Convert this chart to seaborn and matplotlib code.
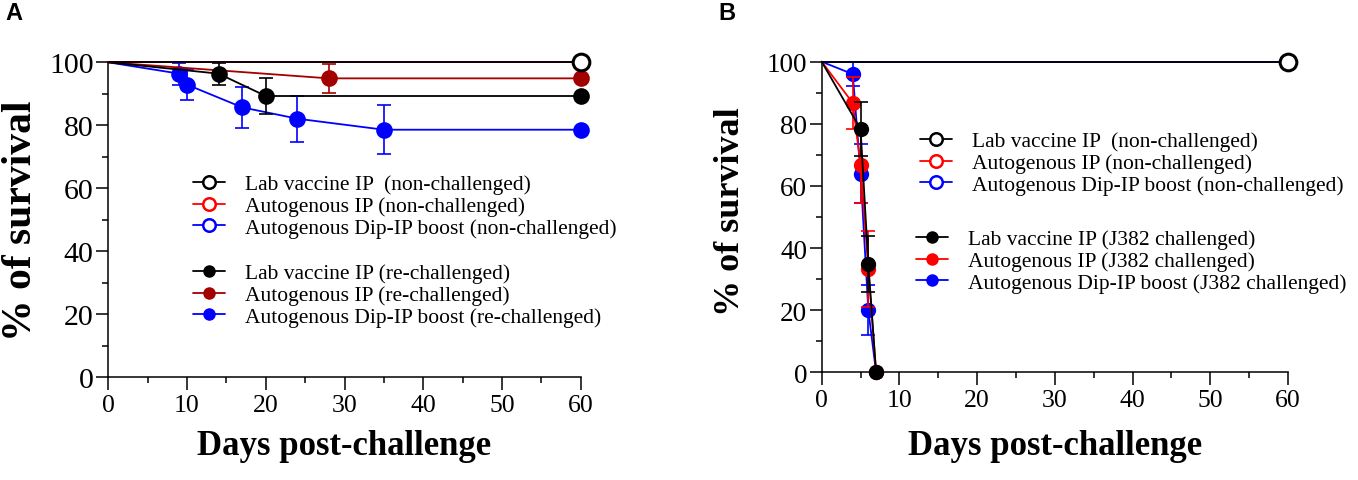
import numpy as np
import pandas as pd
import seaborn as sns
import matplotlib
matplotlib.use("Agg")
import matplotlib.pyplot as plt
from matplotlib.lines import Line2D
from matplotlib.ticker import MultipleLocator

# ---------------- data ----------------
# Panel A (re-challenge)
a_nc_days = [0, 60]
a_lab_nc_surv = [100, 100]
a_auto_nc_surv = [100, 100]
a_dip_nc_surv = [100, 100]

a_lab_rc_days = [0, 14, 20, 60]
a_lab_rc_surv = [100, 96.4, 89.3, 89.3]
a_lab_rc_se = [0, 3.5, 5.8, 0]

a_auto_rc_days = [0, 28, 60]
a_auto_rc_surv = [100, 94.9, 94.9]
a_auto_rc_se = [0, 4.7, 0]

a_dip_rc_days = [0, 9, 10, 17, 24, 35, 60]
a_dip_rc_surv = [100, 96.4, 92.9, 85.7, 82.1, 78.6, 78.6]
a_dip_rc_se = [0, 3.5, 4.9, 6.6, 7.3, 7.7, 0]

# Panel B (J382 challenge)
b_nc_days = [0, 60]
b_lab_nc_surv = [100, 100]

b_lab_j_days = [0, 5, 6, 7]
b_lab_j_surv = [100, 78.3, 34.8, 0]
b_lab_j_se = [0, 8.6, 9.0, 0]

b_auto_j_days = [0, 4, 5, 6, 7]
b_auto_j_surv = [100, 86.7, 66.7, 33.3, 0]
b_auto_j_se = [0, 8.5, 12.2, 12.2, 0]

b_dip_j_days = [0, 4, 5, 6, 7]
b_dip_j_surv = [100, 96.0, 64.0, 20.0, 0]
b_dip_j_se = [0, 3.9, 9.6, 8.0, 0]

x_ticks = [0, 10, 20, 30, 40, 50, 60]
y_ticks = [0, 20, 40, 60, 80, 100]

labels_a_nc = ["Lab vaccine IP  (non-challenged)", "Autogenous IP (non-challenged)",
               "Autogenous Dip-IP boost (non-challenged)"]
labels_a_rc = ["Lab vaccine IP (re-challenged)", "Autogenous IP (re-challenged)",
               "Autogenous Dip-IP boost (re-challenged)"]
labels_b_nc = ["Lab vaccine IP  (non-challenged)", "Autogenous IP (non-challenged)",
               "Autogenous Dip-IP boost (non-challenged)"]
labels_b_j = ["Lab vaccine IP (J382 challenged)", "Autogenous IP (J382 challenged)",
              "Autogenous Dip-IP boost (J382 challenged)"]

BLACK = "#000000"
RED = "#FF0000"
DARKRED = "#A30000"
BLUE = "#0000FF"

# ---------------- style ----------------
sns.set_theme(style="ticks")
plt.rcParams["font.family"] = ["Liberation Serif", "DejaVu Serif"]
plt.rcParams["axes.linewidth"] = 1.1
for k in ["text.color", "axes.labelcolor", "xtick.color", "ytick.color",
          "axes.edgecolor", "xtick.labelcolor", "ytick.labelcolor"]:
    plt.rcParams[k] = "black"

W, H = 1358, 481
fig = plt.figure(figsize=(W / 100, H / 100), dpi=100)


def px_axes(x0, x1, y_top, y_bot):
    return fig.add_axes([x0 / W, 1 - y_bot / H, (x1 - x0) / W, (y_bot - y_top) / H])


axA = px_axes(108.3, 580.7, 63.3, 378.3)
axB = px_axes(821.7, 1288.0, 62.7, 373.3)

LW = 1.3
MS = 12


def survival(ax, days, surv, se, color, ms=MS, z=3, face=None):
    df = pd.DataFrame({"day": days, "surv": surv, "se": se})
    sns.lineplot(data=df, x="day", y="surv", color=color, linewidth=LW, ax=ax,
                 clip_on=False, zorder=z, legend=False)
    pts = df.iloc[1:]
    eb = pts[pts["se"] > 0]
    if len(eb):
        ax.errorbar(eb["day"], eb["surv"], yerr=eb["se"], fmt="none", ecolor=color,
                    elinewidth=1.2, capsize=5, capthick=1.2, zorder=z, clip_on=False)
    sns.scatterplot(data=pts, x="day", y="surv", color=color if face is None else face,
                    edgecolor=color, linewidth=2.2 if face is not None else 0,
                    s=ms ** 2, ax=ax, zorder=z + 0.5, clip_on=False, legend=False)


# Panel A
survival(axA, a_dip_rc_days, a_dip_rc_surv, a_dip_rc_se, BLUE, z=3)
survival(axA, a_auto_rc_days, a_auto_rc_surv, a_auto_rc_se, DARKRED, z=4)
survival(axA, a_lab_rc_days, a_lab_rc_surv, a_lab_rc_se, BLACK, z=5)
sns.lineplot(x=a_nc_days, y=a_dip_nc_surv, color=BLUE, linewidth=LW, ax=axA, clip_on=False, zorder=5)
sns.lineplot(x=a_nc_days, y=a_auto_nc_surv, color=RED, linewidth=LW, ax=axA, clip_on=False, zorder=5)
survival(axA, a_nc_days, a_lab_nc_surv, [0, 0], BLACK, z=6, face="white")

# Panel B
sns.lineplot(x=b_nc_days, y=b_lab_nc_surv, color=BLUE, linewidth=LW, ax=axB, clip_on=False, zorder=2)
survival(axB, b_dip_j_days, b_dip_j_surv, b_dip_j_se, BLUE, ms=11, z=3)
survival(axB, b_auto_j_days, b_auto_j_surv, b_auto_j_se, RED, ms=11, z=4)
survival(axB, b_lab_j_days, b_lab_j_surv, b_lab_j_se, BLACK, ms=11, z=5)
survival(axB, b_nc_days, b_lab_nc_surv, [0, 0], BLACK, z=6, face="white")

for ax, ysize, ylsize, ylx, yly, xly in [
    (axA, 21.5, 30, -0.185, 0.5, -0.164),
    (axB, 19.5, 26, -0.195, 0.522, -0.1825),
]:
    ax.set_xlim(0, 60)
    ax.set_ylim(0, 100)
    ax.set_xticks(x_ticks)
    ax.set_yticks(y_ticks)
    ax.xaxis.set_minor_locator(MultipleLocator(5))
    ax.yaxis.set_minor_locator(MultipleLocator(10))
    ax.tick_params(which="major", length=9, width=1.1, color="black", direction="out")
    ax.tick_params(which="minor", length=4.5, width=1.1, color="black", direction="out")
    ax.tick_params(axis="x", which="major", labelsize=18.5, pad=3, labelcolor="black")
    ax.tick_params(axis="y", which="major", labelsize=ysize, pad=1.5, labelcolor="black")
    for s in ["top", "right"]:
        ax.spines[s].set_visible(False)
    for s in ["left", "bottom"]:
        ax.spines[s].set_color("black")
        ax.spines[s].set_linewidth(1.1)
    ax.set_xlabel("Days post-challenge", fontsize=25, fontweight="bold", color="black")
    ax.xaxis.set_label_coords(0.5, xly)
    ax.set_ylabel("% of survival", fontsize=ylsize, fontweight="bold", color="black")
    ax.yaxis.label.set_va("center")
    ax.yaxis.set_label_coords(ylx, yly)
    ax.set_facecolor("white")


def handle(color, open_):
    return Line2D([], [], color=color, linewidth=LW, marker="o", markersize=9,
                  markerfacecolor="white" if open_ else color,
                  markeredgecolor=color, markeredgewidth=1.8 if open_ else 0)


def add_legend(handles, labels, x_px, y_px):
    leg = fig.legend(handles, labels, loc="center left",
                     bbox_to_anchor=(x_px / W, 1 - y_px / H),
                     bbox_transform=fig.transFigure, frameon=False,
                     borderpad=0, borderaxespad=0, handlelength=1.5,
                     handletextpad=0.9, labelspacing=0.08, prop={"size": 15.5},
                     labelcolor="black")
    return leg


add_legend([handle(BLACK, True), handle(RED, True), handle(BLUE, True)], labels_a_nc, 193, 207)
add_legend([handle(BLACK, False), handle(DARKRED, False), handle(BLUE, False)], labels_a_rc, 193, 296)
add_legend([handle(BLACK, True), handle(RED, True), handle(BLUE, True)], labels_b_nc, 920, 164)
add_legend([handle(BLACK, False), handle(RED, False), handle(BLUE, False)], labels_b_j, 916, 262)

fig.text(5 / W, 1 - 2.5 / H, "A", fontsize=17, fontweight="bold", color="black",
         family=["Liberation Sans", "DejaVu Sans"], ha="left", va="top")
fig.text(718 / W, 1 - 2.5 / H, "B", fontsize=17, fontweight="bold", color="black",
         family=["Liberation Sans", "DejaVu Sans"], ha="left", va="top")

fig.savefig("out.png", dpi=100, facecolor="white")
